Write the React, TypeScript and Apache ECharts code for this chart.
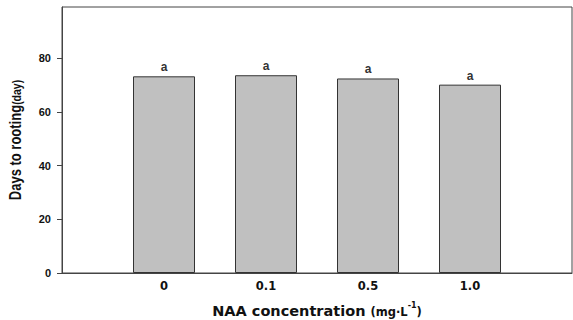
import React, { useEffect, useRef } from "react";
import * as echarts from "echarts";

const categories = ["", "0", "0.1", "0.5", "1.0", ""];
const values = [null, 73.2, 73.6, 72.4, 70.1, null];
const letters = ["", "a", "a", "a", "a", ""];
const yTicks = [0, 20, 40, 60, 80];
const yTitle = "Days to rooting";
const yUnit = "(day)";

export default function App() {
  const ref = useRef<HTMLDivElement>(null);
  useEffect(() => {
    document.body.style.margin = "0";
    const chart = echarts.init(ref.current!, null, { renderer: "svg" });
    const font = "'Liberation Sans', Arial, sans-serif";
    const wide = "'DejaVu Sans', sans-serif";
    chart.setOption({
      animation: false,
      backgroundColor: "#fff",
      grid: {
        left: 62, right: 1, top: 7, bottom: 47, show: true, borderColor: "#444", borderWidth: 1,
        containLabel: false, outerBoundsMode: "none",
      },
      graphic: [
        {
          type: "text",
          x: 14,
          y: 140,
          rotation: Math.PI / 2,
          scaleY: 1.25,
          style: {
            text: `{t|${yTitle}}{s|${yUnit}}`,
            align: "center",
            verticalAlign: "middle",
            rich: {
              t: { fontFamily: font, fontWeight: "bold", fontSize: 13, fill: "#111", verticalAlign: "bottom", lineHeight: 15 },
              s: { fontFamily: font, fontWeight: "bold", fontSize: 10.5, fill: "#111", verticalAlign: "bottom", lineHeight: 15 },
            },
          },
        },
      ],
      xAxis: {
        type: "category",
        data: categories,
        boundaryGap: false,
        axisLine: { lineStyle: { color: "#444", width: 1 } },
        axisTick: { show: false },
        axisLabel: { color: "#111", fontFamily: wide, fontWeight: "bold", fontSize: 11.5, margin: 7, interval: 0 },
        name: "{t|NAA concentration }{s|(mg·L}{p|-1}{s|)}",
        nameLocation: "middle",
        nameGap: 28,
        nameTextStyle: {
          rich: {
            t: { fontFamily: wide, fontWeight: "bold", fontSize: 14.5, color: "#111", verticalAlign: "bottom", lineHeight: 17 },
            s: { fontFamily: wide, fontWeight: "bold", fontSize: 11.5, color: "#111", verticalAlign: "bottom", lineHeight: 17 },
            p: { fontFamily: wide, fontWeight: "bold", fontSize: 8, color: "#111", verticalAlign: "top", lineHeight: 17 },
          },
        },
      },
      yAxis: {
        type: "value",
        min: 0,
        max: 99,
        interval: 20,
        splitLine: { show: false },
        axisLine: { show: true, lineStyle: { color: "#444", width: 1 } },
        axisTick: { show: true, inside: false, length: 5, lineStyle: { color: "#444" } },
        axisLabel: {
          color: "#111", fontFamily: font, fontWeight: "bold", fontSize: 11, margin: 11, showMaxLabel: false,
          formatter: (v: number) => (yTicks.includes(v) ? String(v) : ""),
        },
      },
      series: [
        {
          type: "bar",
          data: values,
          barWidth: 62,
          itemStyle: { color: "#c0c0c0", borderColor: "#333", borderWidth: 1 },
          label: {
            show: true,
            position: "top",
            distance: 3,
            fontFamily: font,
            fontWeight: "bold",
            fontSize: 12,
            color: "#333",
            formatter: (p: any) => letters[p.dataIndex],
          },
        },
      ],
    });
    return () => chart.dispose();
  }, []);
  return <div ref={ref} style={{ width: 573, height: 320 }} />;
}
